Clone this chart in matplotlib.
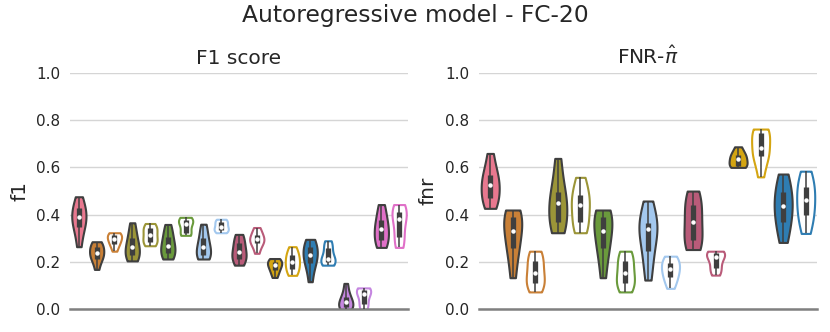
import numpy as np
import matplotlib.pyplot as plt

# colours of the ten model variants (same order in both panels)
palette = ['#e8788f', '#c98037', '#9b9538', '#6a9a3c', '#a3c8ee',
           '#b95b79', '#d4a512', '#2f7db2', '#c586e0', '#e070c8']

# F1 score panel: (colour index, filled?) per violin, left to right
f1_groups = [(0, True), (1, True), (1, False), (2, True), (2, False),
             (3, True), (3, False), (4, True), (4, False), (5, True),
             (5, False), (6, True), (6, False), (7, True), (7, False),
             (8, True), (8, False), (9, True), (9, False)]
f1_values = [
    [0.265, 0.32, 0.349, 0.37, 0.389, 0.40, 0.427, 0.44, 0.476],
    [0.169, 0.205, 0.215, 0.23, 0.239, 0.25, 0.265, 0.275, 0.286],
    [0.246, 0.268, 0.277, 0.29, 0.297, 0.305, 0.315, 0.32, 0.324],
    [0.205, 0.22, 0.229, 0.245, 0.262, 0.28, 0.300, 0.33, 0.366],
    [0.269, 0.28, 0.286, 0.30, 0.314, 0.33, 0.343, 0.35, 0.363],
    [0.213, 0.225, 0.237, 0.255, 0.267, 0.285, 0.307, 0.33, 0.359],
    [0.313, 0.318, 0.321, 0.345, 0.360, 0.37, 0.377, 0.383, 0.389],
    [0.213, 0.22, 0.229, 0.245, 0.262, 0.28, 0.300, 0.33, 0.360],
    [0.324, 0.33, 0.335, 0.342, 0.349, 0.36, 0.370, 0.376, 0.381],
    [0.187, 0.205, 0.215, 0.23, 0.243, 0.26, 0.280, 0.30, 0.317],
    [0.237, 0.265, 0.280, 0.29, 0.296, 0.30, 0.315, 0.33, 0.346],
    [0.135, 0.155, 0.166, 0.18, 0.187, 0.195, 0.201, 0.21, 0.215],
    [0.144, 0.16, 0.172, 0.19, 0.201, 0.215, 0.229, 0.245, 0.265],
    [0.117, 0.17, 0.195, 0.215, 0.229, 0.245, 0.262, 0.28, 0.296],
    [0.187, 0.195, 0.201, 0.208, 0.215, 0.235, 0.259, 0.275, 0.290],
    [0.0, 0.005, 0.011, 0.02, 0.032, 0.04, 0.054, 0.075, 0.110],
    [0.0, 0.015, 0.025, 0.05, 0.065, 0.075, 0.082, 0.087, 0.091],
    [0.262, 0.28, 0.293, 0.32, 0.339, 0.355, 0.377, 0.41, 0.443],
    [0.262, 0.285, 0.307, 0.35, 0.380, 0.40, 0.412, 0.43, 0.443],
]

# FNR panel
fnr_groups = [(0, True), (1, True), (1, False), (2, True), (2, False),
              (3, True), (3, False), (4, True), (4, False), (5, True),
              (5, False), (6, True), (6, False), (7, True), (7, False)]
fnr_values = [
    [0.427, 0.455, 0.469, 0.50, 0.525, 0.545, 0.567, 0.60, 0.659],
    [0.134, 0.22, 0.258, 0.30, 0.332, 0.36, 0.391, 0.41, 0.420],
    [0.074, 0.095, 0.110, 0.13, 0.152, 0.18, 0.205, 0.23, 0.246],
    [0.324, 0.35, 0.370, 0.41, 0.448, 0.47, 0.497, 0.56, 0.638],
    [0.324, 0.345, 0.370, 0.41, 0.441, 0.46, 0.483, 0.52, 0.558],
    [0.134, 0.22, 0.258, 0.30, 0.332, 0.36, 0.391, 0.41, 0.420],
    [0.074, 0.095, 0.110, 0.13, 0.152, 0.18, 0.205, 0.23, 0.246],
    [0.124, 0.20, 0.248, 0.30, 0.338, 0.35, 0.366, 0.41, 0.458],
    [0.089, 0.12, 0.135, 0.155, 0.169, 0.185, 0.195, 0.215, 0.225],
    [0.253, 0.27, 0.293, 0.33, 0.370, 0.40, 0.441, 0.47, 0.500],
    [0.145, 0.165, 0.174, 0.20, 0.222, 0.23, 0.237, 0.242, 0.246],
    [0.600, 0.604, 0.608, 0.62, 0.635, 0.643, 0.652, 0.665, 0.687],
    [0.560, 0.62, 0.648, 0.665, 0.680, 0.72, 0.744, 0.755, 0.762],
    [0.283, 0.34, 0.370, 0.41, 0.438, 0.46, 0.497, 0.53, 0.572],
    [0.321, 0.37, 0.398, 0.43, 0.462, 0.49, 0.518, 0.55, 0.584],
]

yticks = [0.0, 0.2, 0.4, 0.6, 0.8, 1.0]
dark = '#3f3f3f'


def draw_panel(ax, values, groups, title, ylabel):
    pos = np.arange(len(values))
    parts = ax.violinplot(values, positions=pos, widths=0.8,
                          showextrema=False, showmedians=False)
    for body, (ci, filled) in zip(parts['bodies'], groups):
        body.set_alpha(1)
        body.set_linewidth(1.5)
        if filled:
            body.set_facecolor(palette[ci])
            body.set_edgecolor(dark)
        else:
            body.set_facecolor('white')
            body.set_edgecolor(palette[ci])
        body.set_zorder(2)
    # inner box like seaborn
    for x, v in zip(pos, values):
        v = np.asarray(v)
        q1, med, q3 = np.percentile(v, [25, 50, 75])
        iqr = q3 - q1
        lo = v[v >= q1 - 1.5 * iqr].min()
        hi = v[v <= q3 + 1.5 * iqr].max()
        ax.plot([x, x], [lo, hi], color=dark, lw=1.1, zorder=3,
                solid_capstyle='butt')
        ax.plot([x, x], [q1, q3], color=dark, lw=3.8, zorder=3,
                solid_capstyle='butt')
        ax.plot(x, med, 'o', color='white', ms=2.2, zorder=4)

    ax.set_xlim(-0.5, len(values) - 0.5)
    ax.set_ylim(0, 1)
    ax.set_yticks(yticks)
    ax.set_yticklabels(['%.1f' % t for t in yticks])
    ax.set_xticks([])
    ax.grid(axis='y', color='#d5d5d5', lw=1)
    ax.set_axisbelow(True)
    for side in ['left', 'right', 'top']:
        ax.spines[side].set_visible(False)
    ax.spines['bottom'].set_color('#808080')
    ax.spines['bottom'].set_linewidth(1.8)
    ax.tick_params(axis='y', length=0, pad=7, labelsize=11,
                   labelcolor='#262626')
    ax.set_title(title, fontsize=14.5, color='#262626')
    ax.set_ylabel(ylabel, fontsize=14.5, color='#262626', labelpad=5)


fig = plt.figure(figsize=(8.3, 3.32), dpi=100)
ax1 = fig.add_axes([0.0843, 0.068, 0.4073, 0.713])
ax2 = fig.add_axes([0.577, 0.068, 0.4073, 0.713])

draw_panel(ax1, f1_values, f1_groups, 'F1 score', 'f1')
draw_panel(ax2, fnr_values, fnr_groups, r'FNR-$\hat{\pi}$', 'fnr')

fig.suptitle('Autoregressive model - FC-20', fontsize=16.8, y=0.952,
             va='center', color='#262626')

fig.savefig('out.png', dpi=100)
